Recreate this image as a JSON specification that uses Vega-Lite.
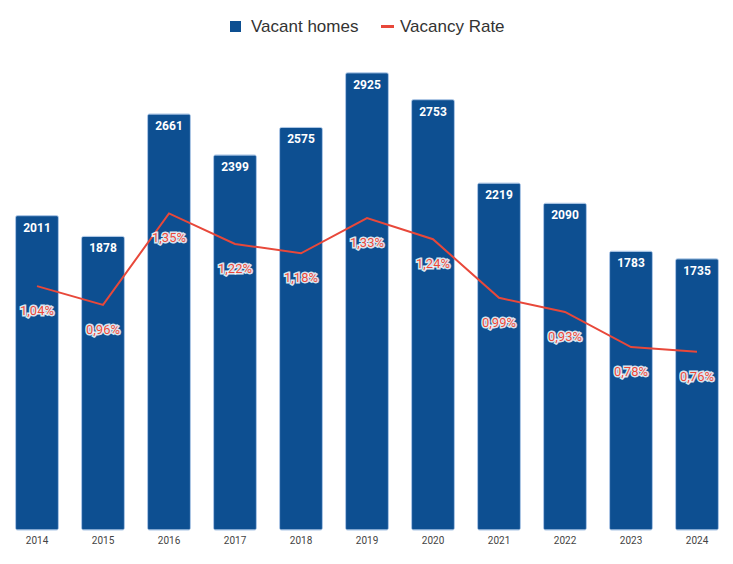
{
  "$schema": "https://vega.github.io/schema/vega-lite/v6.json",
  "autosize": "none",
  "width": 726,
  "height": 469,
  "padding": {"left": 4, "top": 61, "right": 3, "bottom": 34},
  "background": "white",
  "config": {"view": {"stroke": null}, "font": "Roboto"},
  "data": {
    "values": [
      {"year": "2014", "homes": 2011, "rate": 1.04},
      {"year": "2015", "homes": 1878, "rate": 0.96},
      {"year": "2016", "homes": 2661, "rate": 1.35},
      {"year": "2017", "homes": 2399, "rate": 1.22},
      {"year": "2018", "homes": 2575, "rate": 1.18},
      {"year": "2019", "homes": 2925, "rate": 1.33},
      {"year": "2020", "homes": 2753, "rate": 1.24},
      {"year": "2021", "homes": 2219, "rate": 0.99},
      {"year": "2022", "homes": 2090, "rate": 0.93},
      {"year": "2023", "homes": 1783, "rate": 0.78},
      {"year": "2024", "homes": 1735, "rate": 0.76}
    ]
  },
  "transform": [
    {"calculate": "replace(format(datum.rate, '.2f'), '.', ',') + '%'", "as": "rateLabel"}
  ],
  "encoding": {
    "x": {
      "field": "year", "type": "ordinal",
      "scale": {"paddingInner": 0.35, "paddingOuter": 0.175},
      "axis": {"title": null, "labelAngle": 0, "ticks": false, "domain": false, "labelFontSize": 10, "labelColor": "#444", "labelPadding": 5, "labelFont": "Roboto"}
    }
  },
  "layer": [
    {
      "layer": [
        {
          "mark": {"type": "bar", "cornerRadius": 2, "stroke": "#a9c4e4", "strokeWidth": 1},
          "encoding": {
            "y": {"field": "homes", "type": "quantitative", "scale": {"domain": [0, 3000], "nice": false}, "axis": null},
            "fill": {
              "datum": "Vacant homes",
              "type": "nominal",
              "scale": {"domain": ["Vacant homes"], "range": ["#0d4f91"]},
              "legend": {
                "title": null,
                "orient": "none",
                "direction": "horizontal",
                "legendX": 223,
                "legendY": -43,
                "labelFontSize": 17,
                "labelFont": "Liberation Sans",
                "labelColor": "#333",
                "symbolType": "square",
                "symbolSize": 121,
                "symbolStrokeWidth": 0,
                "labelOffset": 7
              }
            }
          }
        },
        {
          "mark": {"type": "text", "color": "white", "fontWeight": "bold", "fontSize": 12, "baseline": "middle", "dy": 12, "font": "Roboto"},
          "encoding": {
            "y": {"field": "homes", "type": "quantitative", "scale": {"domain": [0, 3000], "nice": false}, "axis": null},
            "text": {"field": "homes", "type": "quantitative", "format": "d"}
          }
        }
      ]
    },
    {
      "layer": [
        {
          "mark": {"type": "line", "strokeWidth": 2},
          "encoding": {
            "y": {"field": "rate", "type": "quantitative", "scale": {"domain": [0, 2], "nice": false}, "axis": null},
            "stroke": {
              "datum": "Vacancy Rate",
              "type": "nominal",
              "scale": {"domain": ["Vacancy Rate"], "range": ["#e8483a"]},
              "legend": {
                "title": null,
                "orient": "none",
                "direction": "horizontal",
                "legendX": 375,
                "legendY": -43,
                "labelFontSize": 17,
                "labelFont": "Liberation Sans",
                "labelColor": "#333",
                "symbolType": "stroke",
                "symbolSize": 169,
                "symbolStrokeWidth": 3,
                "labelOffset": 4
              }
            }
          }
        },
        {
          "mark": {"type": "text", "fill": "white", "stroke": "white", "strokeWidth": 3, "strokeOpacity": 0.85, "fontSize": 13, "baseline": "middle", "dy": 25, "font": "Roboto"},
          "encoding": {
            "y": {"field": "rate", "type": "quantitative", "scale": {"domain": [0, 2], "nice": false}, "axis": null},
            "text": {"field": "rateLabel"}
          }
        },
        {
          "mark": {"type": "text", "color": "#e8483a", "fontSize": 13, "baseline": "middle", "dy": 25, "font": "Roboto"},
          "encoding": {
            "y": {"field": "rate", "type": "quantitative", "scale": {"domain": [0, 2], "nice": false}, "axis": null},
            "text": {"field": "rateLabel"}
          }
        }
      ]
    }
  ],
  "resolve": {"scale": {"y": "independent"}}
}
